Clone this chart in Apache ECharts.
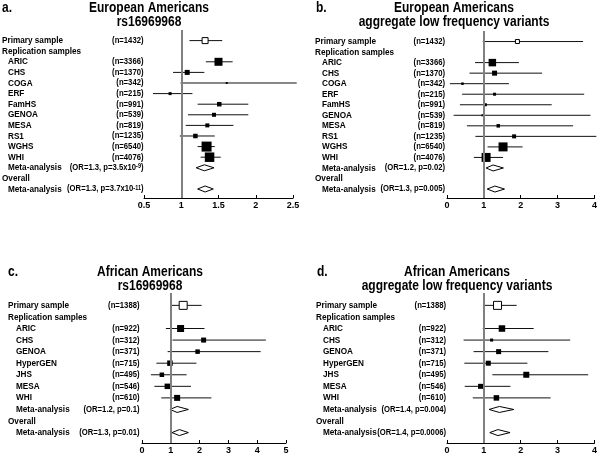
<!DOCTYPE html>
<html><head><meta charset="utf-8">
<script src="https://cdn.jsdelivr.net/npm/echarts@6/dist/echarts.min.js"></script>
<style>html,body{margin:0;padding:0;background:#fff}#c{width:600px;height:455px}</style>
</head><body><div id="c"></div>
<script>
// ---------------- DATA ----------------
const rowsEA = ['Primary sample','Replication samples','ARIC','CHS','COGA','ERF','FamHS','GENOA','MESA','RS1','WGHS','WHI','Meta-analysis','Overall','Meta-analysis'];
const nEA = ['(n=1432)','','(n=3366)','(n=1370)','(n=342)','(n=215)','(n=991)','(n=539)','(n=819)','(n=1235)','(n=6540)','(n=4076)'];
const statA = ['(OR=1.3, p=3.5x10^{-9})','(OR=1.3, p=3.7x10^{-11})'];
const statB = ['(OR=1.2, p=0.02)','(OR=1.3, p=0.005)'];

const rowsAA = ['Primary sample','Replication samples','ARIC','CHS','GENOA','HyperGEN','JHS','MESA','WHI','Meta-analysis','Overall','Meta-analysis'];
const nAA = ['(n=1388)','','(n=922)','(n=312)','(n=371)','(n=715)','(n=495)','(n=546)','(n=610)'];
const statC = ['(OR=1.2, p=0.1)','(OR=1.3, p=0.01)'];
const statD = ['(OR=1.4, p=0.004)','(OR=1.4, p=0.0006)'];

// panel a: European Americans rs16969968
const orA = [1.32, null, 1.50, 1.08, 1.61, 0.85, 1.51, 1.44, 1.35, 1.19, 1.34, 1.38, 1.31, null, 1.32];
const loA = [1.11, null, 1.33, 0.89, 0.99, 0.62, 1.22, 1.09, 1.06, 0.98, 1.22, 1.26, 1.20, null, 1.22];
const hiA = [1.55, null, 1.69, 1.31, 2.55, 1.15, 1.90, 1.90, 1.70, 1.45, 1.45, 1.53, 1.44, null, 1.43];
const wA  = [0.6, null, 0.8, 0.5, 0.2, 0.3, 0.45, 0.4, 0.4, 0.45, 1.0, 0.95];

// panel b: European Americans aggregate low frequency variants
const orB = [1.91, null, 1.23, 1.29, 0.42, 1.29, 1.04, 0.96, 1.39, 1.82, 1.52, 1.06, 1.25, null, 1.30];
const loB = [0.97, null, 0.76, 0.61, 0.08, 0.41, 0.35, 0.18, 0.54, 0.77, 1.10, 0.73, 1.06, null, 1.09];
const hiB = [3.69, null, 1.95, 2.58, 1.68, 3.72, 2.84, 3.89, 3.42, 4.05, 2.05, 1.52, 1.53, null, 1.56];
const wB  = [0.4, null, 0.75, 0.5, 0.25, 0.3, 0.3, 0.2, 0.35, 0.4, 0.9, 0.9];

// panel c: African Americans rs16969968
const orC = [1.43, null, 1.34, 2.14, 1.93, 0.97, 0.69, 0.88, 1.22, 1.22, null, 1.30];
const loC = [0.99, null, 0.83, 1.06, 0.89, 0.50, 0.31, 0.43, 0.67, 0.97, null, 1.04];
const hiC = [2.07, null, 2.17, 4.30, 4.12, 1.89, 1.55, 1.70, 2.41, 1.61, null, 1.61];
const wC  = [0.8, null, 0.7, 0.5, 0.45, 0.55, 0.45, 0.55, 0.6];

// panel d: African Americans aggregate low frequency variants
const orD = [1.37, null, 1.49, 1.21, 1.40, 1.12, 2.15, 0.91, 1.34, 1.42, null, 1.38];
const loD = [0.99, null, 0.97, 0.45, 0.72, 0.47, 1.23, 0.48, 0.70, 1.14, null, 1.16];
const hiD = [1.89, null, 2.35, 3.34, 2.75, 2.18, 3.83, 1.72, 2.81, 1.81, null, 1.71];
const wD  = [0.8, null, 0.65, 0.3, 0.5, 0.5, 0.6, 0.5, 0.55];

const ticksA = [0.5, 2.5, 0.5];   // min, max, interval
const ticksB = [0, 4, 1];
const ticksC = [0, 5, 1];
const ticksD = [0, 4, 1];

const titles = [
  ['a.', 'European Americans\nrs16969968'],
  ['b.', 'European Americans\naggregate low frequency variants'],
  ['c.', 'African Americans\nrs16969968'],
  ['d.', 'African Americans\naggregate low frequency variants']
];

// ---------------- BUILD ----------------
const FONT = '"Liberation Sans", Arial, Helvetica, sans-serif';
const LABEL_FONT = 'bold 8.2px ' + FONT;
const RIGHT_FONT = 'bold 7.7px ' + FONT;
const SUP_FONT = 'bold 5.5px ' + FONT;
const TEXT_SY = 1.15;

const rightA = nEA.concat([statA[0], '', statA[1]]);
const rightB = nEA.concat([statB[0], '', statB[1]]);
const rightC = nAA.concat([statC[0], '', statC[1]]);
const rightD = nAA.concat([statD[0], '', statD[1]]);

const panels = [
  {rows: rowsEA, right: rightA, or: orA, lo: loA, hi: hiA, w: wA, t: ticksA,
   grid: {left: 144, top: 30, width: 149, height: 168}, ymin: -1, ymax: 14.85,
   nameX: 2, indentX: 8, rightX: 143.5, title: {labX: 2, cx: 149, y: 1}},
  {rows: rowsEA, right: rightB, or: orB, lo: loB, hi: hiB, w: wB, t: ticksB,
   grid: {left: 447, top: 31, width: 148, height: 167}, ymin: -1, ymax: 14.85,
   nameX: 315, indentX: 322, rightX: 445, title: {labX: 316, cx: 454, y: 1}},
  {rows: rowsAA, right: rightC, or: orC, lo: loC, hi: hiC, w: wC, t: ticksC,
   grid: {left: 142, top: 293, width: 144, height: 150.5}, ymin: -1.07, ymax: 11.9,
   nameX: 8, indentX: 16, rightX: 139.5, title: {labX: 8, cx: 150, y: 265}},
  {rows: rowsAA, right: rightD, or: orD, lo: loD, hi: hiD, w: wD, t: ticksD,
   grid: {left: 447, top: 293, width: 148, height: 150.5}, ymin: -1.07, ymax: 11.9,
   nameX: 316, indentX: 323, rightX: 446, title: {labX: 317, cx: 457, y: 265}}
];

function toRich(s) {
  const m = s.match(/^(.*)\^\{([^}]*)\}(.*)$/);
  if (!m) return '{t|' + s + '}';
  return '{t|' + m[1] + '}{s|' + m[2] + '}{t|' + m[3] + '}';
}

function makeRender(p) {
  return function (params, api) {
    const i = params.dataIndex;
    const y = api.coord([p.t[0], i])[1];
    const children = [];
    const name = p.rows[i];
    const header = (i === 0 || name === 'Replication samples' || name === 'Overall');
    children.push({type: 'text', x: header ? p.nameX : p.indentX, y: y, scaleY: TEXT_SY,
      style: {text: name, font: LABEL_FONT, fill: '#000', align: 'left', verticalAlign: 'middle'}});
    const r = p.right[i];
    if (r) {
      children.push({type: 'text', x: p.rightX, y: y, scaleY: TEXT_SY,
        style: {text: toRich(r), font: RIGHT_FONT, fill: '#000', align: 'right', verticalAlign: 'middle',
          rich: {t: {font: RIGHT_FONT, fill: '#000', verticalAlign: 'bottom'},
                 s: {font: SUP_FONT, fill: '#000', verticalAlign: 'top'}}}});
    }
    if (p.or[i] != null) {
      const xl = api.coord([p.lo[i], i])[0];
      const xh = api.coord([p.hi[i], i])[0];
      const xc = api.coord([p.or[i], i])[0];
      if (name === 'Meta-analysis') {
        children.push({type: 'polygon', shape: {points: [[xl, y], [xc, y - 3], [xh, y], [xc, y + 3]]},
          style: {fill: '#fff', stroke: '#000', lineWidth: 1}});
      } else {
        children.push({type: 'line', shape: {x1: xl, y1: y, x2: xh, y2: y},
          style: {stroke: '#111', lineWidth: 1}});
        const s = p.w[i] * 10;
        children.push({type: 'rect', shape: {x: xc - s / 2, y: y - s / 2, width: s, height: s},
          style: i === 0 ? {fill: '#fff', stroke: '#000', lineWidth: 1} : {fill: '#000'}});
      }
    }
    return {type: 'group', children: children};
  };
}

const option = {
  animation: false,
  backgroundColor: '#fff',
  grid: panels.map(p => Object.assign({containLabel: false}, p.grid)),
  xAxis: panels.map((p, k) => ({
    type: 'value', gridIndex: k, min: p.t[0], max: p.t[1], interval: p.t[2], position: 'bottom',
    axisLine: {show: true, onZero: false, lineStyle: {color: '#000', width: 1}},
    axisTick: {show: true, inside: true, length: 3, lineStyle: {color: '#000'}},
    axisLabel: {color: '#000', fontFamily: FONT, fontWeight: 'bold', fontSize: 9, margin: 3},
    splitLine: {show: false}
  })),
  yAxis: panels.map((p, k) => ({
    type: 'value', gridIndex: k, inverse: true, min: p.ymin, max: p.ymax, show: false,
    splitLine: {show: false}
  })),
  graphic: titles.flatMap((t, k) => {
    const p = panels[k].title;
    return [
      {type: 'text', x: p.labX, y: p.y, scaleY: TEXT_SY, style: {text: t[0], font: 'bold 12px ' + FONT, fill: '#000', align: 'left', verticalAlign: 'top'}},
      {type: 'text', x: p.cx, y: p.y, scaleY: TEXT_SY, style: {text: t[1], font: 'bold 12px ' + FONT, fill: '#000', align: 'center', verticalAlign: 'top', lineHeight: 12.2}}
    ];
  }),
  series: panels.flatMap((p, k) => [
    {type: 'line', xAxisIndex: k, yAxisIndex: k, data: [], z: 1, silent: true,
     markLine: {silent: true, symbol: 'none', animation: false, label: {show: false},
       lineStyle: {color: '#808080', width: 2, type: 'solid'}, data: [{xAxis: 1}]}},
    {type: 'custom', xAxisIndex: k, yAxisIndex: k, z: 3, silent: true,
     data: p.rows.map((_, i) => [p.or[i] == null ? 1 : p.or[i], i]),
     renderItem: makeRender(p), clip: false}
  ])
};

const chart = echarts.init(document.getElementById('c'), null, {renderer: 'canvas'});
chart.setOption(option);
</script>
</body></html>
